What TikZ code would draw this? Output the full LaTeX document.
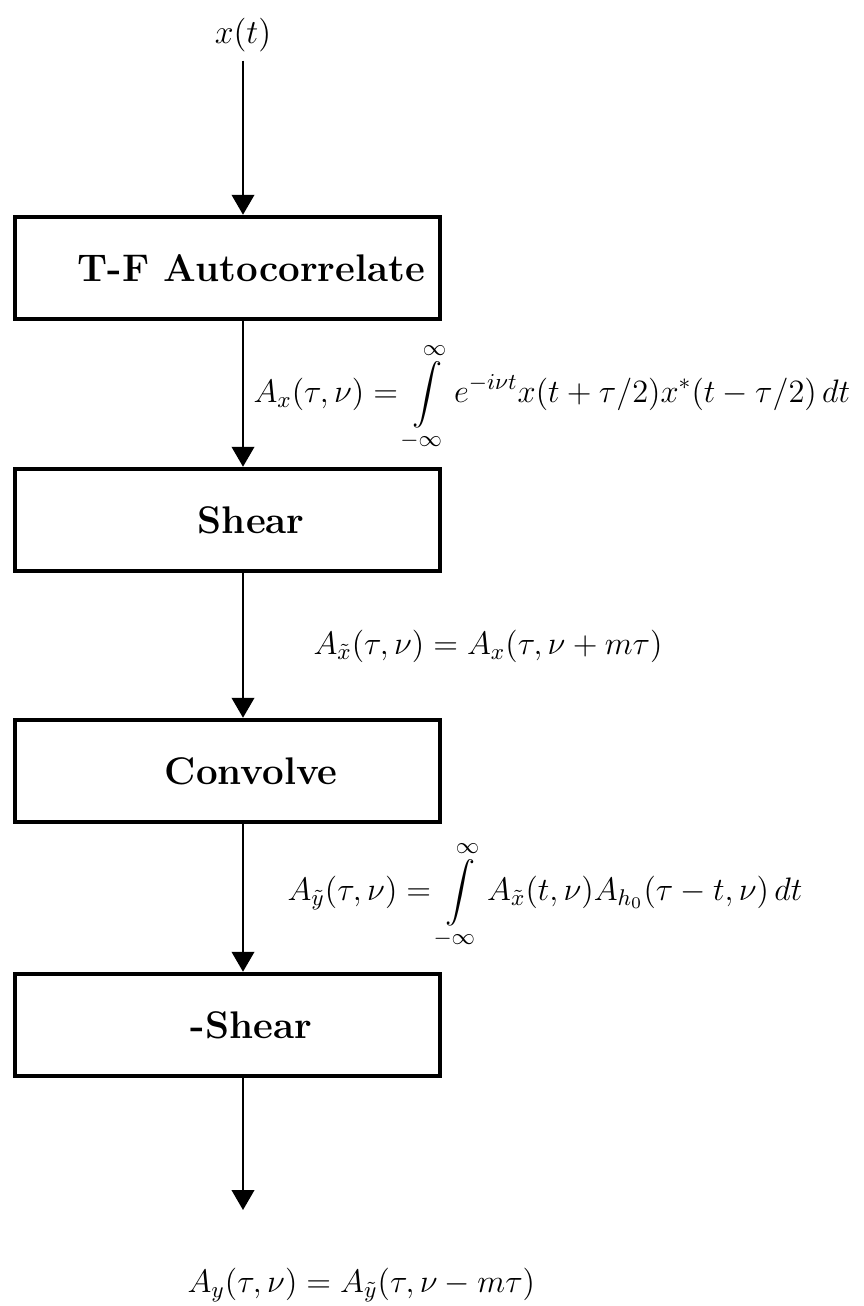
\RequirePackage{fix-cm}
\documentclass[tikz,border=0pt]{standalone}
\usepackage{amsmath}
\usepackage{tikz}
\usetikzlibrary{arrows.meta,positioning}

\begin{document}
\begin{tikzpicture}[
  x=0.4pt, y=-0.4pt,
  box/.style={draw,line width=1.6pt,minimum width=170pt,minimum height=41pt,
    font=\fontsize{15.4}{18}\selectfont\bfseries,execute at begin node=\hspace*{19pt}},
  eq/.style={anchor=west,inner sep=0pt,font=\fontsize{13}{16}\selectfont},
  ar/.style={-{Triangle[length=8pt,width=9pt]},line width=1pt}
]
\useasboundingbox (0,0) rectangle (864,1306);
% input and the four blocks
\node[font=\fontsize{13.5}{16}\selectfont] (xt) at (243,35) {$x(t)$};
\node[box] (b1) at (227.5,268) {T-F Autocorrelate};
\node[box] (b2) at (227.5,520) {Shear};
\node[box] (b3) at (227.5,771) {Convolve};
\node[box] (b4) at (227.5,1025) {-Shear};
\coordinate (out) at (243,1210);
% ambiguity functions between the blocks
\node[eq] (e1) at (253,397) {$\displaystyle A_x(\tau,\nu)=\int\limits_{-\infty}^{\infty} e^{-i\nu t}x(t+\tau/2)x^*(t-\tau/2)\,dt$};
\node[eq] (e2) at (313,646) {$A_{\tilde{x}}(\tau,\nu)=A_x(\tau,\nu+m\tau)$};
\node[eq] (e3) at (287,895) {$\displaystyle A_{\tilde{y}}(\tau,\nu)=\int\limits_{-\infty}^{\infty} A_{\tilde{x}}(t,\nu)A_{h_0}(\tau-t,\nu)\,dt$};
\node[eq] (e4) at (187,1285) {$A_y(\tau,\nu)=A_{\tilde{y}}(\tau,\nu-m\tau)$};
\draw[ar] (xt) -- (xt |- b1.north);
\draw[ar] (b1.south -| xt) -- (b2.north -| xt);
\draw[ar] (b2.south -| xt) -- (b3.north -| xt);
\draw[ar] (b3.south -| xt) -- (b4.north -| xt);
\draw[ar] (b4.south -| xt) -- (out);
\end{tikzpicture}
\end{document}
